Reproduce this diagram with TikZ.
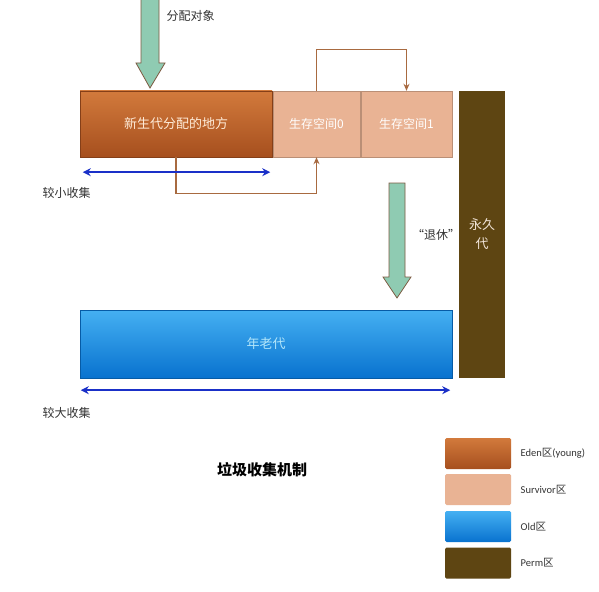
\documentclass[tikz,border=0pt]{standalone}
\usepackage{fontspec}
\setmainfont{Carlito}
\newfontfamily\cjk{Noto Sans CJK SC}
\usepackage{tikz}
\usetikzlibrary{arrows.meta, calc}

\definecolor{edenTop}{HTML}{D27A3C}
\definecolor{edenBot}{HTML}{A64F1E}
\definecolor{survivor}{HTML}{E9B394}
\definecolor{oldTop}{HTML}{45B0F2}
\definecolor{oldBot}{HTML}{0872CF}
\definecolor{perm}{HTML}{5E4512}
\definecolor{mint}{HTML}{8FCBB2}
\definecolor{mintEdge}{HTML}{7D5B42}
\definecolor{moveLine}{HTML}{A86A40}
\definecolor{collectLine}{HTML}{1A30C8}

\begin{document}
\begin{tikzpicture}[x=1pt, y=-1pt,
    zone/.style = {draw=#1!80!black, line width=0.4pt, inner sep=0pt, font=\cjk\fontsize{13}{15}\selectfont},
    move/.style = {draw=moveLine, line width=1.2pt, -{Stealth[length=7pt, width=6pt]}},
    collect/.style = {draw=collectLine, line width=1.8pt, {Stealth[length=8pt, width=8pt]}-{Stealth[length=8pt, width=8pt]}},
    lbl/.style = {font=\cjk\fontsize{12}{14}\selectfont, text=black!80},
    legendbox/.style = {rounded corners=1.5pt, minimum width=66pt, minimum height=31pt, inner sep=0pt},
    legendtxt/.style = {anchor=west, font=\fontsize{10.5}{12}\selectfont, text=black!80}]
	    \useasboundingbox[fill=white] (0,0) rectangle (599,591);
	    % young generation
	    \node[zone=edenBot, top color=edenTop, bottom color=edenBot, text=white!85!orange,
	          minimum width=192pt, minimum height=66pt] (eden) at (176,124) {新生代分配的地方};
	    \node[zone=survivor, fill=survivor, text=white, font=\cjk\fontsize{12}{14}\selectfont,
	          minimum width=87pt, minimum height=66pt] (s0) at (316.5,124) {生存空间0};
	    \node[zone=survivor, fill=survivor, text=white, font=\cjk\fontsize{12}{14}\selectfont,
	          minimum width=91pt, minimum height=66pt] (s1) at (406.5,124) {生存空间1};
	    % perm and old
	    \node[fill=perm, text=white!80!brown, inner sep=0pt, minimum width=46pt, minimum height=287pt,
	          align=center, font=\cjk\fontsize{13}{19}\selectfont] (permzone) at (482,234.5) {永久\\代};
	    \node[zone=oldBot, top color=oldTop, bottom color=oldBot, text=cyan!30,
	          minimum width=372pt, minimum height=68pt] (old) at (266,344) {年老代};
	    % moves between spaces
	    \draw[move] (s0.north) -- ++(0,-41) -| (s1.north);
	    \draw[move] (eden.south) -- ++(0,36) -| (s0.south);
	    % allocation and tenure arrows
	    \filldraw[fill=mint, draw=mintEdge, line width=0.8pt]
	        (141,-2) -- (159,-2) -- (159,63) -- (165,63) -- (150,88) -- (136,63) -- (141,63) -- cycle;
	    \filldraw[fill=mint, draw=mintEdge, line width=0.8pt]
	        (389,183) -- (405,183) -- (405,277) -- (411,277) -- (397,298) -- (383,277) -- (389,277) -- cycle;
	    \node[lbl, anchor=west] (alloc) at (163,16) {分配对象};
	    \node[lbl] (retire) at (436,235) {“退休”};
	    % collection ranges
	    \coordinate (minorL) at ($(eden.south west)+(3,15)$);
	    \coordinate (minorR) at ($(eden.south east)+(-2,15)$);
	    \draw[collect] (minorL) -- (minorR);
	    \node[lbl, anchor=west] (minor) at (39,193) {较小收集};
	    \coordinate (majorL) at ($(old.south west)+(1,12)$);
	    \coordinate (majorR) at ($(old.south east)+(-2,12)$);
	    \draw[collect] (majorL) -- (majorR);
	    \node[lbl, anchor=west] (major) at (39,413) {较大收集};
	    % title
	    \node[font=\cjk\bfseries\fontsize{15}{18}\selectfont] (title) at (262,470) {垃圾收集机制};
	    % legend
	    \node[legendbox, top color=edenTop, bottom color=edenBot] (keyEden) at (478,453.5) {};
	    \node[legendbox, fill=survivor] (keySurv) at (478,489.5) {};
	    \node[legendbox, top color=oldTop, bottom color=oldBot] (keyOld) at (478,526.5) {};
	    \node[legendbox, fill=perm] (keyPerm) at (478,563) {};
	    \node[legendtxt] at ($(keyEden.east)+(6,0)$) {Eden{\cjk 区}(young)};
	    \node[legendtxt] at ($(keySurv.east)+(6,0)$) {Survivor{\cjk 区}};
	    \node[legendtxt] at ($(keyOld.east)+(6,0)$) {Old{\cjk 区}};
	    \node[legendtxt] at ($(keyPerm.east)+(6,0)$) {Perm{\cjk 区}};
	\end{tikzpicture}
\end{document}
